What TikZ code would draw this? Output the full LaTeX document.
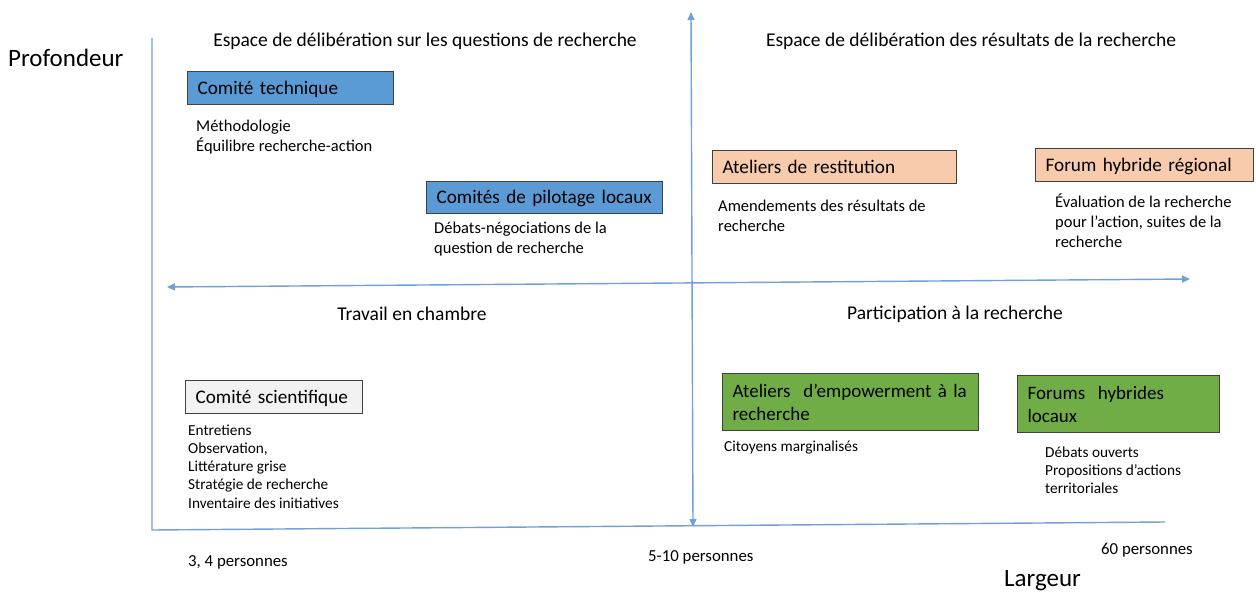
\documentclass[tikz,border=0pt]{standalone}
\usepackage{fontspec}
\setmainfont{Carlito}
\usetikzlibrary{arrows.meta}
\definecolor{axisblue}{HTML}{6FA0D8}
\definecolor{boxblue}{HTML}{5B9BD5}
\definecolor{boxpeach}{HTML}{F8CBAD}
\definecolor{boxgreen}{HTML}{70AD47}
\definecolor{boxgray}{HTML}{F2F2F2}
\definecolor{edge}{HTML}{404040}
\tikzset{
  axis/.style={draw=axisblue, line width=1.4pt},
  dblarrow/.style={axis, {Triangle[length=8pt,width=7pt]}-{Triangle[length=8pt,width=7pt]}},
  box/.style={draw=edge, line width=1.2pt, anchor=north west, inner xsep=10pt, inner ysep=0pt, align=left, font=\fontsize{19.2}{23}\selectfont},
  onebox/.style={box, text height=14pt, text depth=2pt},
  twobox/.style={box, font=\fontsize{19}{23}\selectfont},
  title/.style={inner sep=0pt, yshift=-1pt, font=\fontsize{19.5}{23}\selectfont},
  axlabel/.style={inner sep=0pt, anchor=west, yshift=-1pt, font=\fontsize{25}{28}\selectfont},
  desc/.style={inner sep=0pt, anchor=west, yshift=-1.5pt, align=left, font=\fontsize{16.5}{19.5}\selectfont},
  lst/.style={inner sep=0pt, anchor=west, yshift=-1pt, align=left, font=\fontsize{15.3}{18.2}\selectfont},
  pers/.style={inner sep=0pt, anchor=west, yshift=-1pt, font=\fontsize{16.8}{20}\selectfont},
}
\begin{document}
\begin{tikzpicture}[x=1pt,y=-1pt]
\useasboundingbox (0,0) rectangle (1256,594);
% axes
\coordinate (lt) at (152,38);
\coordinate (lb) at (152,530);
\coordinate (rb) at (1165,522);
\coordinate (vt) at (691,12);
\coordinate (vb) at (693,527);
\coordinate (hl) at (167,287);
\coordinate (hr) at (1190,279);
\draw[axis] (lt) -- (lb) -- (rb);
\draw[dblarrow] (vb) -- (vt);
\draw[dblarrow] (hl) -- (hr);

% axis labels
\node[axlabel] (prof) at (8,57) {Profondeur};
\node[axlabel] (larg) at (1004,580) {Largeur};

% titles
\node[title] (t1) at (425,40) {Espace de délibération sur les questions de recherche};
\node[title] (t2) at (971,40) {Espace de délibération des résultats de la recherche};
\node[title] (t3) at (412,312.5) {Travail en chambre};
\node[title] (t4) at (955,313) {Participation à la recherche};

% boxes
\node[onebox, fill=boxblue, minimum width=206pt, minimum height=33pt, text width=186pt] (ct) at (187,71) {Comité technique};
\node[onebox, fill=boxblue, minimum width=236pt, minimum height=32pt, text width=216pt] (cpl) at (426,181) {Comités de pilotage locaux};
\node[onebox, fill=boxpeach, minimum width=244pt, minimum height=33pt, text width=224pt] (ar) at (712,150) {Ateliers de restitution};
\node[onebox, fill=boxpeach, minimum width=218pt, minimum height=33pt, text width=198pt] (fhr) at (1035,148) {Forum hybride régional};
\node[onebox, fill=boxgray, minimum width=177pt, minimum height=33pt, text width=157pt] (cs) at (185,380) {Comité scientifique};
\node[twobox, fill=boxgreen, minimum width=256pt, minimum height=57pt, text width=236pt] (ae) at (722,373) {Ateliers\ \ d’empowerment à la\\recherche};
\node[twobox, fill=boxgreen, minimum width=202pt, minimum height=57pt, text width=182pt] (fhl) at (1017,375) {Forums\ \ hybrides\\locaux};

% descriptions
\node[desc] (d1) at (196,135.5) {Méthodologie\\Équilibre recherche-action};
\node[desc] (d2) at (434,237.5) {Débats-négociations de la\\question de recherche};
\node[desc, font=\fontsize{16.5}{20}\selectfont] (d3) at (718,214) {Amendements des résultats de\\recherche};
\node[desc, font=\fontsize{16.5}{20}\selectfont] (d4) at (1055,219) {Évaluation de la recherche\\pour l’action, suites de la\\recherche};
\node[lst] (d5) at (188,465.5) {Entretiens\\Observation,\\Littérature grise\\Stratégie de recherche\\Inventaire des initiatives};
\node[lst] (d6) at (724,446) {Citoyens marginalisés};
\node[lst] (d7) at (1045,469) {Débats ouverts\\Propositions d’actions\\territoriales};

% persons
\node[pers] (p1) at (188,561) {3, 4 personnes};
\node[pers] (p2) at (648,556) {5-10 personnes};
\node[pers] (p3) at (1101,549) {60 personnes};
\end{tikzpicture}
\end{document}
